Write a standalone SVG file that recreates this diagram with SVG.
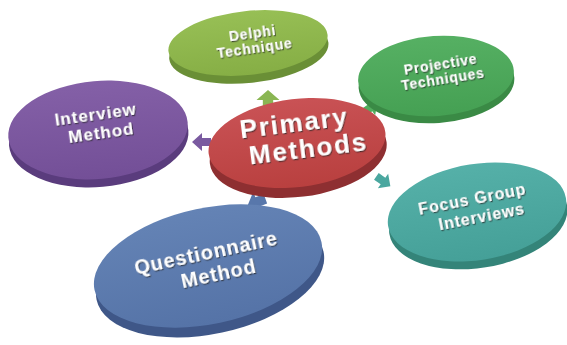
<svg xmlns="http://www.w3.org/2000/svg" width="567" height="345" viewBox="0 0 567 345">
  <defs>
    <style>
      .lbl { font-family: "Liberation Sans", Arial, sans-serif; font-weight: bold; fill: #ffffff; text-anchor: middle; filter: url(#txtShadow); }
    </style>
    <filter id="txtShadow" x="-20%" y="-20%" width="140%" height="160%">
      <feDropShadow dx="0.8" dy="1.2" stdDeviation="0.6" flood-color="#222" flood-opacity="0.75"/>
    </filter>
    <!-- face shading: slightly lighter toward the top -->
    <linearGradient id="gRed" x1="0" y1="0" x2="0" y2="1"><stop offset="0" stop-color="#c95255"/><stop offset="1" stop-color="#b9403f"/></linearGradient>
    <linearGradient id="gOlive" x1="0" y1="0" x2="0" y2="1"><stop offset="0" stop-color="#97bf55"/><stop offset="1" stop-color="#86ae45"/></linearGradient>
    <linearGradient id="gGreen" x1="0" y1="0" x2="0" y2="1"><stop offset="0" stop-color="#56b063"/><stop offset="1" stop-color="#45a053"/></linearGradient>
    <linearGradient id="gPurple" x1="0" y1="0" x2="0" y2="1"><stop offset="0" stop-color="#8460a7"/><stop offset="1" stop-color="#734f97"/></linearGradient>
    <linearGradient id="gBlue" x1="0" y1="0" x2="0" y2="1"><stop offset="0" stop-color="#6483b5"/><stop offset="1" stop-color="#5573a7"/></linearGradient>
    <linearGradient id="gTeal" x1="0" y1="0" x2="0" y2="1"><stop offset="0" stop-color="#55b0a8"/><stop offset="1" stop-color="#45a098"/></linearGradient>
    <!-- block arrow pointing along +x -->
    <polygon id="blockArrow" points="-9,-4.5 0,-4.5 0,-10 10,0 0,10 0,4.5 -9,4.5"/>
  </defs>

  <rect width="567" height="345" fill="#ffffff"/>

  <!-- connectors: block arrows from the centre disk toward each method -->
  <g id="connectors">
    <use href="#blockArrow" fill="#7a5aa0" transform="translate(202,142) rotate(180) scale(1,0.9)"/>
    <use href="#blockArrow" fill="#8ab653" transform="translate(268,100) rotate(-90) scale(1,1.15)"/>
    <use href="#blockArrow" fill="#52ad5e" transform="translate(370,108) rotate(-35) scale(0.9,0.9)"/>
    <use href="#blockArrow" fill="#4aa79f" transform="translate(383,181) rotate(35) scale(0.9,0.9)"/>
    <use href="#blockArrow" fill="#5877ab" transform="translate(257,202) rotate(160) scale(1,1.1)"/>
  </g>

  <g id="delphi">
    <g transform="rotate(-6 248 43)">
      <ellipse cx="248" cy="51" rx="80" ry="32" fill="#6a8f36"/>
      <ellipse cx="248" cy="43" rx="80" ry="32" fill="url(#gOlive)"/>
    </g>
    <text class="lbl" font-size="14" letter-spacing="0.8" transform="rotate(-8 254 44)"><tspan x="254" y="38">Delphi</tspan><tspan x="254" y="53">Technique</tspan></text>
  </g>

  <g id="projective">
    <g transform="rotate(-4 436 76)">
      <ellipse cx="436" cy="83" rx="78" ry="40" fill="#3a8a45"/>
      <ellipse cx="436" cy="76" rx="78" ry="40" fill="url(#gGreen)"/>
    </g>
    <text class="lbl" font-size="14" letter-spacing="0.7" transform="rotate(-9 442 74)"><tspan x="442" y="69">Projective</tspan><tspan x="442" y="84">Techniques</tspan></text>
  </g>

  <g id="interview">
    <g transform="rotate(-5 98 130)">
      <ellipse cx="98" cy="138" rx="90" ry="49" fill="#5a3c7d"/>
      <ellipse cx="98" cy="130" rx="90" ry="49" fill="url(#gPurple)"/>
    </g>
    <text class="lbl" font-size="17" letter-spacing="1" transform="rotate(-8 97 124)"><tspan x="97" y="120">Interview</tspan><tspan x="100" y="139">Method</tspan></text>
  </g>

  <g id="focus">
    <g transform="rotate(-9 477 212)">
      <ellipse cx="477" cy="220" rx="90" ry="48" fill="#348479"/>
      <ellipse cx="477" cy="212" rx="90" ry="48" fill="url(#gTeal)"/>
    </g>
    <text class="lbl" font-size="16" letter-spacing="0.9" transform="rotate(-11 476 208)"><tspan x="474" y="204">Focus Group</tspan><tspan x="480" y="223">Interviews</tspan></text>
  </g>

  <g id="primary">
    <g transform="rotate(-7 297 143)">
      <ellipse cx="297" cy="153" rx="89" ry="44" fill="#8e2f31"/>
      <ellipse cx="297" cy="143" rx="89" ry="44" fill="url(#gRed)"/>
    </g>
    <text class="lbl" font-size="26" letter-spacing="1.8" transform="rotate(-7 302 138)"><tspan x="296" y="131">Primary</tspan><tspan x="307" y="158">Methods</tspan></text>
  </g>

  <g id="questionnaire">
    <g transform="rotate(-12 208 266)">
      <ellipse cx="208" cy="276" rx="116" ry="58" fill="#3f5788"/>
      <ellipse cx="208" cy="266" rx="116" ry="58" fill="url(#gBlue)"/>
    </g>
    <text class="lbl" font-size="20" letter-spacing="0.9" transform="rotate(-12 210 262)"><tspan x="208" y="259">Questionnaire</tspan><tspan x="216" y="282">Method</tspan></text>
  </g>
</svg>
